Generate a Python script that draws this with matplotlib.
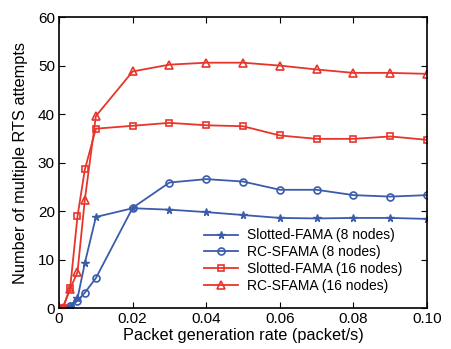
import numpy as np
import matplotlib.pyplot as plt

plt.rcParams['font.family'] = ['Liberation Sans', 'DejaVu Sans']

rate = [0.001, 0.003, 0.005, 0.007, 0.01, 0.02, 0.03, 0.04, 0.05, 0.06, 0.07, 0.08, 0.09, 0.1]

sfama_8 = [0.0, 0.5, 2.0, 9.3, 18.8, 20.6, 20.3, 19.8, 19.2, 18.6, 18.5, 18.6, 18.6, 18.4]
rcsfama_8 = [0.0, 0.4, 1.5, 3.2, 6.2, 20.7, 25.9, 26.6, 26.1, 24.4, 24.4, 23.3, 23.0, 23.3]
sfama_16 = [0.0, 4.1, 18.9, 28.6, 37.0, 37.6, 38.2, 37.7, 37.5, 35.6, 34.9, 34.9, 35.4, 34.7]
rcsfama_16 = [0.0, 4.0, 7.4, 22.4, 39.6, 48.8, 50.2, 50.6, 50.6, 50.0, 49.2, 48.5, 48.5, 48.3]

blue = '#3b5bab'
red = '#e8352b'

fig = plt.figure(figsize=(4.51, 3.49), dpi=100)
ax = fig.add_axes([0.131, 0.117, 0.816, 0.834])

ax.plot(rate, sfama_8, color=blue, marker='*', markersize=5.5, lw=1.3, label='Slotted-FAMA (8 nodes)')
ax.plot(rate, rcsfama_8, color=blue, marker='o', markersize=5, mfc='none', mew=1.2, lw=1.3, label='RC-SFAMA (8 nodes)')
ax.plot(rate, sfama_16, color=red, marker='s', markersize=5, mfc='none', mew=1.2, lw=1.3, label='Slotted-FAMA (16 nodes)')
ax.plot(rate, rcsfama_16, color=red, marker='^', markersize=6, mfc='none', mew=1.2, lw=1.3, label='RC-SFAMA (16 nodes)')

ax.set_xlim(0, 0.1)
ax.set_ylim(0, 60)
ax.set_xticks([0, 0.02, 0.04, 0.06, 0.08, 0.1])
ax.set_xticklabels(['0', '0.02', '0.04', '0.06', '0.08', '0.10'])
ax.set_yticks(range(0, 61, 10))
ax.tick_params(direction='in', top=True, right=True, labelsize=11, length=4, pad=3)
for s in ax.spines.values():
    s.set_linewidth(1.2)

ax.set_xlabel('Packet generation rate (packet/s)', fontsize=11.7, labelpad=1)
ax.set_ylabel('Number of multiple RTS attempts', fontsize=11.8, labelpad=7)

ax.legend(loc='lower right', frameon=False, fontsize=10, handlelength=2.45,
          handletextpad=0.6, labelspacing=0.2, bbox_to_anchor=(0.966, 0.01))

fig.savefig('out.png', dpi=100)
